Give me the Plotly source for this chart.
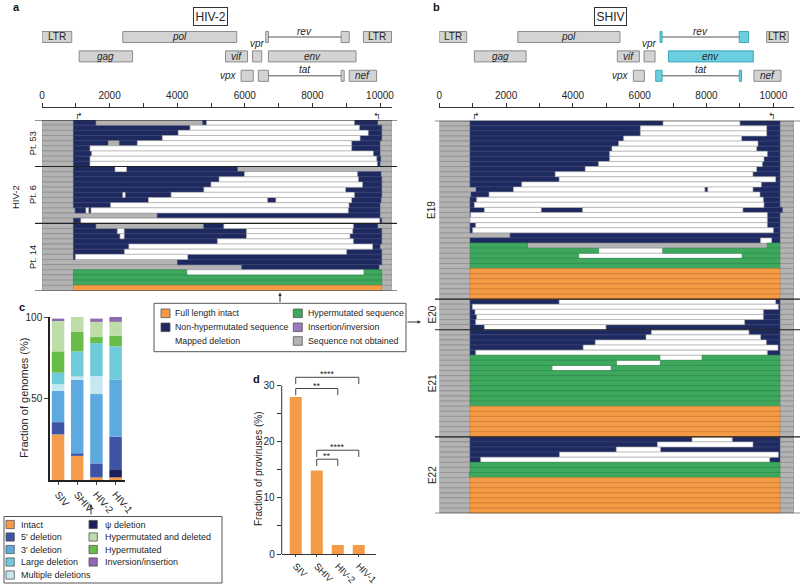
import plotly.graph_objects as go

W, H = 800, 585
def PX(x): return x / W
def PY(y): return 1 - y / H

FONT = "Liberation Sans, Arial, sans-serif"
TXT = "#262626"

NAVY = "#1E2A5F"; ORANGE = "#F59B45"; GREEN = "#3EA95E"; GRAY = "#B3B3B3"
PURPLE = "#9A7CC0"; WHITE = "#FFFFFF"; GENE_GRAY = "#D3D3D3"; CYAN = "#6BCFE0"

SEG_FILL = {"N": NAVY, "G": GRAY, "W": WHITE, "H": GREEN, "I": ORANGE}
SEG_LINE = {"N": "#3A4678", "G": "#8A8A8A", "W": "#A8A8A8", "H": "#2E8A4A", "I": "#C97A30"}

# ---------------- Panel a: HIV-2 proviral genomes (segments: type, start, end) ----------------
A_GROUP_LABELS = ["Pt. 53", "Pt. 6", "Pt. 14"]
A_FULL_END = 10340
A_PT53 = [
    [("N", 930, 1600), ("G", 1600, 4740), ("N", 4740, 4870), ("W", 4870, 9240), ("N", 9240, 9930)],
    [("N", 930, 4380), ("W", 4380, 9390), ("N", 9390, 10050)],
    [("N", 930, 4030), ("W", 4030, 9650), ("N", 9650, 10050)],
    [("N", 930, 3560), ("W", 3560, 9410), ("N", 9410, 10050)],
    [("N", 930, 1960), ("G", 1960, 2280), ("N", 2280, 2820), ("W", 2820, 9160), ("N", 9160, 10000)],
    [("N", 930, 1420), ("W", 1420, 9160), ("N", 9160, 10000)],
    [("N", 930, 1470), ("W", 1470, 9800), ("N", 9800, 10000)],
    [("N", 930, 1420), ("W", 1420, 9900), ("N", 9900, 10020)],
    [("N", 930, 1420), ("W", 1420, 9920), ("N", 9920, 10000)],
]
A_PT6 = [
    [("N", 930, 2160), ("W", 2160, 2500), ("N", 2500, 5780)],
    [("N", 930, 5990), ("W", 5990, 9330), ("N", 9330, 10030)],
    [("N", 930, 5240), ("W", 5240, 9360), ("N", 9360, 10050)],
    [("N", 930, 5000), ("W", 5000, 9480), ("N", 9480, 10050)],
    [("N", 930, 4790), ("W", 4790, 8980), ("N", 8980, 10050)],
    [("N", 930, 2390), ("W", 2390, 2460), ("N", 2460, 3820), ("W", 3820, 9240), ("N", 9240, 10050)],
    [("N", 930, 3150), ("W", 3150, 6670), ("N", 6670, 6920), ("W", 6920, 9160), ("N", 9160, 10030)],
    [("N", 930, 2030), ("W", 2030, 9080), ("N", 9080, 10000)],
    [("N", 980, 1300), ("W", 1300, 1380), ("N", 1380, 1450), ("W", 1450, 9060), ("N", 9060, 10000)],
    [("N", 3410, 10000)],
    [("N", 930, 1150), ("W", 1150, 9990), ("N", 9990, 10050)],
]
A_PT14 = [
    [("N", 930, 1600), ("G", 1600, 4770), ("N", 4770, 5380), ("W", 5380, 9210), ("N", 9210, 9930)],
    [("N", 930, 2230), ("W", 2230, 2430), ("N", 2430, 6050), ("W", 6050, 9190), ("N", 9190, 10050)],
    [("N", 930, 2310), ("W", 2310, 2430), ("N", 2430, 6050), ("W", 6050, 9110), ("N", 9110, 10050)],
    [("N", 930, 5190), ("W", 5190, 9210), ("N", 9210, 10050)],
    [("N", 930, 2570), ("W", 2570, 9780), ("N", 9780, 10000)],
    [("N", 930, 2440), ("W", 2440, 9010), ("N", 9010, 10050)],
    [("N", 930, 990), ("W", 990, 4310), ("N", 4310, 10050)],
    [("N", 4010, 10050)],
    [("N", 5910, 9970)],
    [("H", 930, 4280), ("W", 4280, 9530), ("H", 9530, 10050)],
    [("H", 930, 10050)],
    [("H", 930, 10050)],
    [("I", 930, 10050)],
]

# ---------------- Panel b: SHIV proviral genomes ----------------
B_GROUP_LABELS = ["E19", "E20", "E21", "E22"]
B_FULL_END = 10620
B_E19 = [
    [("N", 920, 6700), ("W", 6700, 9000), ("N", 9000, 10200)],
    [("N", 920, 6020), ("W", 6020, 9800), ("N", 9800, 10200)],
    [("N", 920, 6020), ("W", 6020, 9800), ("N", 9800, 10200)],
    [("N", 920, 5520), ("W", 5520, 9050), ("N", 9050, 10200)],
    [("N", 920, 5370), ("W", 5370, 9540), ("N", 9540, 10200)],
    [("N", 920, 5170), ("W", 5170, 9500), ("N", 9500, 10200)],
    [("N", 920, 5100), ("W", 5100, 9820), ("N", 9820, 10200)],
    [("N", 920, 5100), ("W", 5100, 9720), ("N", 9720, 10200)],
    [("N", 920, 4770), ("W", 4770, 9670), ("N", 9670, 10200)],
    [("N", 920, 4370), ("W", 4370, 9500), ("N", 9500, 10200)],
    [("N", 920, 3470), ("W", 3470, 9390), ("N", 9390, 10200)],
    [("N", 920, 3590), ("W", 3590, 10070), ("N", 10070, 10200)],
    [("N", 920, 2470), ("W", 2470, 9640), ("N", 9640, 10200)],
    [("N", 1100, 2220), ("W", 2220, 7950), ("N", 7950, 8040), ("W", 8040, 9390), ("N", 9390, 10200)],
    [("N", 950, 1490), ("W", 1490, 9600), ("N", 9600, 10200)],
    [("N", 920, 1120), ("W", 1120, 9700), ("N", 9700, 10200)],
    [("N", 920, 1050), ("W", 1050, 9720), ("N", 9720, 10200)],
    [("N", 920, 1350), ("W", 1350, 3050), ("N", 3050, 4290), ("W", 4290, 9090), ("N", 9090, 10270)],
    [("N", 920, 940), ("W", 940, 9820), ("N", 9820, 10200)],
    [("W", 920, 9820), ("N", 9820, 10200)],
    [("N", 920, 1090), ("W", 1090, 9820), ("N", 9820, 10200)],
    [("N", 920, 1000), ("W", 1000, 10000), ("N", 10000, 10200)],
    [("N", 2120, 10200)],
    [("N", 920, 9620), ("W", 9620, 9950), ("N", 9950, 10200)],
    [("H", 920, 2640), ("G", 2640, 9820), ("H", 9820, 10200)],
    [("H", 920, 4770), ("W", 4770, 6690), ("H", 6690, 10200)],
    [("H", 920, 4170), ("W", 4170, 9070), ("H", 9070, 10200)],
    [("H", 920, 10200)],
    [("H", 920, 10200)],
    [("I", 920, 10200)],
    [("I", 920, 10200)],
    [("I", 920, 10200)],
    [("I", 920, 10200)],
    [("I", 920, 10200)],
    [("I", 920, 10200)],
]
B_E20 = [
    [("N", 920, 3590), ("W", 3590, 10070), ("N", 10070, 10200)],
    [("N", 920, 990), ("W", 990, 10150), ("N", 10150, 10200)],
    [("N", 920, 1070), ("W", 1070, 9700), ("N", 9700, 10200)],
    [("N", 920, 1120), ("W", 1120, 9700), ("N", 9700, 10200)],
    [("N", 920, 1090), ("W", 1090, 9140), ("N", 9140, 10200)],
    [("N", 920, 1350), ("W", 1350, 4990), ("N", 4990, 10200)],
]
B_E21 = [
    [("N", 920, 6350), ("W", 6350, 9270), ("N", 9270, 10200)],
    [("N", 920, 6190), ("W", 6190, 9620), ("N", 9620, 10200)],
    [("N", 920, 4670), ("W", 4670, 9790), ("N", 9790, 10200)],
    [("N", 920, 4310), ("W", 4310, 10140), ("N", 10140, 10200)],
    [("N", 920, 1090), ("W", 1090, 9820), ("N", 9820, 10200)],
    [("H", 920, 6600), ("W", 6600, 7870), ("H", 7870, 10200)],
    [("H", 920, 5300), ("W", 5300, 6620), ("H", 6620, 10200)],
    [("H", 920, 3370), ("W", 3370, 5150), ("H", 5150, 10200)],
    [("H", 920, 10200)],
    [("H", 920, 10200)],
    [("H", 920, 10200)],
    [("H", 920, 10200)],
    [("H", 920, 10200)],
    [("H", 920, 10200)],
    [("H", 920, 10200)],
    [("I", 920, 10200)],
    [("I", 920, 10200)],
    [("I", 920, 10200)],
    [("I", 920, 10200)],
    [("I", 920, 10200)],
    [("I", 920, 10200)],
]
B_E22 = [
    [("N", 920, 7570), ("W", 7570, 8770), ("N", 8770, 10200)],
    [("N", 920, 6530), ("W", 6530, 9390), ("N", 9390, 10200)],
    [("N", 920, 5300), ("W", 5300, 6620), ("N", 6620, 10200)],
    [("N", 920, 3600), ("W", 3600, 10150), ("N", 10150, 10200)],
    [("N", 920, 1240), ("W", 1240, 9890), ("N", 9890, 10200)],
    [("H", 920, 10200)],
    [("H", 920, 10200)],
    [("H", 900, 10200)],
    [("I", 920, 10200)],
    [("I", 920, 10200)],
    [("I", 920, 10200)],
    [("I", 920, 10200)],
    [("I", 920, 10200)],
    [("I", 920, 10200)],
    [("I", 920, 10200)],
]

# ---------------- Gene maps ----------------
GENE_NAMES = ["LTR", "pol", "rev", "LTR", "gag", "vif", "vpr", "env", "vpx", "tat", "nef"]
GENE_ROWS = [0, 0, 0, 0, 1, 1, 1, 1, 2, 2, 2]
A_GENE_EXONS = [[(0, 880)], [(2390, 5760)], [(6620, 6700), (8850, 9090)], [(9510, 10340)],
                [(1100, 2680)], [(5430, 6080)], [(6230, 6500)], [(6700, 9290)],
                [(5890, 6250)], [(6400, 6700), (8850, 8940)], [(9090, 9900)]]
B_GENE_EXONS = [[(0, 820)], [(2350, 5410)], [(6610, 6670), (8980, 9260)], [(9800, 10450)],
                [(1050, 2600)], [(5330, 5990)], [(6130, 6460)], [(6860, 9400)],
                [(5810, 6140)], [(6480, 6670), (8980, 9050)], [(9420, 10230)]]
B_HIGHLIGHT = ["rev", "env", "tat"]
AXIS_TICKS = list(range(0, 10001, 1000))

# ---------------- Panel c: stacked composition ----------------
C_GROUPS = ["SIV", "SHIV", "HIV-2", "HIV-1"]
C_CATEGORIES = ["Intact", "ψ deletion", "5′ deletion", "3′ deletion", "Multiple deletions",
                "Large deletion", "Hypermutated", "Hypermutated and deleted", "Inversion/insertion"]
C_COLORS = ["#F59B4E", "#1D1F5C", "#3D54A6", "#5CAAE0", "#C4E7F0", "#6FCBD9", "#68BC48", "#BEDDA8", "#8E6BB0"]
C_INTACT = [28.0, 14.8, 1.6, 1.6]
C_PSI_DEL = [0.0, 0.0, 0.0, 5.0]
C_5_DEL = [7.5, 1.6, 8.6, 20.0]
C_3_DEL = [19.2, 45.1, 42.5, 34.9]
C_MULTI_DEL = [4.1, 2.0, 11.0, 0.0]
C_LARGE_DEL = [7.0, 15.4, 20.3, 20.5]
C_HYPER = [13.1, 12.1, 3.7, 6.5]
C_HYPER_DEL = [19.1, 9.0, 9.3, 8.5]
C_INV = [1.0, 0.0, 2.0, 3.0]
C_VALUES = [C_INTACT, C_PSI_DEL, C_5_DEL, C_3_DEL, C_MULTI_DEL, C_LARGE_DEL, C_HYPER, C_HYPER_DEL, C_INV]
C_LEGEND_COL1 = ["Intact", "5′ deletion", "3′ deletion", "Large deletion", "Multiple deletions"]
C_LEGEND_COL2 = ["ψ deletion", "Hypermutated and deleted", "Hypermutated", "Inversion/insertion"]

# ---------------- Panel d: intact fraction ----------------
D_GROUPS = ["SIV", "SHIV", "HIV-2", "HIV-1"]
D_INTACT = [28.0, 14.9, 1.6, 1.6]
D_COMPARISONS = [(0, 2, "**", 29.5), (0, 3, "****", 31.5), (1, 2, "**", 16.9), (1, 3, "****", 18.5)]

A_LEGEND_LABELS = ["Full length intact", "Non-hypermutated sequence", "Mapped deletion",
                   "Hypermutated sequence", "Insertion/inversion", "Sequence not obtained"]
A_LEGEND_COLORS = [ORANGE, NAVY, None, GREEN, PURPLE, GRAY]

fig = go.Figure()
shapes = []
annos = []

def add_rows(groups, labels, xa, ya, full_end, sep_x0, sep_x1, label_x, label_size):
    rows = [r for g in groups for r in g]
    n = len(rows)
    fig.add_trace(go.Bar(orientation="h", y=list(range(n)), x=[full_end] * n, base=[0] * n, width=1.0,
                         marker=dict(color=GRAY, line=dict(color="#858585", width=0.6)),
                         xaxis=xa, yaxis=ya, hoverinfo="skip"))
    for code in ["N", "G", "W", "H", "I"]:
        ys, bs, ls = [], [], []
        for i, row in enumerate(rows):
            for c, s, e in row:
                if c == code:
                    ys.append(i); bs.append(s); ls.append(e - s)
        if ys:
            fig.add_trace(go.Bar(orientation="h", y=ys, x=ls, base=bs, width=1.0,
                                 marker=dict(color=SEG_FILL[code], line=dict(color=SEG_LINE[code], width=0.6)),
                                 xaxis=xa, yaxis=ya, hoverinfo="skip"))
    yref = "y" if ya == "y" else "y" + ya[1:]
    start = 0
    bounds = [-0.5]
    for g, lab in zip(groups, labels):
        end = start + len(g)
        bounds.append(end - 0.5)
        annos.append(dict(x=PX(label_x), xref="paper", y=(start + end - 1) / 2, yref=yref, text=lab,
                          textangle=-90, showarrow=False, font=dict(size=label_size, color=TXT)))
        start = end
    for b in bounds:
        shapes.append(dict(type="line", xref="paper", yref=yref, x0=PX(sep_x0), x1=PX(sep_x1), y0=b, y1=b,
                           line=dict(color="#222", width=1.2)))
    return n

def add_genes(exons_list, xa, ya, highlight):
    yref = "y" + ya[1:]
    xref = "x" if xa == "x" else "x" + xa[1:]
    groups = {GENE_GRAY: ([], [], []), CYAN: ([], [], [])}
    for name, row, exons in zip(GENE_NAMES, GENE_ROWS, exons_list):
        col = CYAN if name in highlight else GENE_GRAY
        for s, e in exons:
            groups[col][0].append(row); groups[col][1].append(s); groups[col][2].append(e - s)
        if len(exons) > 1:
            fig.add_trace(go.Scatter(x=[exons[0][1], exons[1][0]], y=[row, row], mode="lines",
                                     line=dict(color="#555", width=1), xaxis=xa, yaxis=ya, hoverinfo="skip"))
        lab = name if name == "LTR" else "<i>%s</i>" % name
        if len(exons) > 1:
            annos.append(dict(x=(exons[0][1] + exons[1][0]) / 2, y=row - 0.3, xref=xref, yref=yref, text=lab,
                              showarrow=False, font=dict(size=10, color=TXT)))
        elif name == "vpr":
            annos.append(dict(x=(exons[0][0] + exons[0][1]) / 2, y=row - 0.66, xref=xref, yref=yref, text=lab,
                              showarrow=False, font=dict(size=10, color=TXT)))
        elif name == "vpx":
            annos.append(dict(x=exons[0][0] - 60, y=row, xref=xref, yref=yref, text=lab, xanchor="right",
                              showarrow=False, font=dict(size=10, color=TXT)))
        else:
            annos.append(dict(x=(exons[0][0] + exons[0][1]) / 2, y=row, xref=xref, yref=yref, text=lab,
                              showarrow=False, font=dict(size=10, color=TXT)))
    for col, (ys, bs, ls) in groups.items():
        if ys:
            fig.add_trace(go.Bar(orientation="h", y=ys, x=ls, base=bs, width=0.57,
                                 marker=dict(color=col, line=dict(color="#8C8C8C" if col == GENE_GRAY else "#3AA7BB", width=1)),
                                 xaxis=xa, yaxis=ya, hoverinfo="skip"))

# panel a
nA = add_rows([A_PT53, A_PT6, A_PT14], A_GROUP_LABELS, "x", "y", A_FULL_END, 35, 397, 33, 9.2)
add_genes(A_GENE_EXONS, "x", "y2", [])
# panel b
nB = add_rows([B_E19, B_E20, B_E21, B_E22], B_GROUP_LABELS, "x2", "y3", B_FULL_END, 435, 800, 432, 10)
add_genes(B_GENE_EXONS, "x2", "y4", B_HIGHLIGHT)

# panel c stacked bars
cum = [0.0] * len(C_GROUPS)
for cat, col, vals in zip(C_CATEGORIES, C_COLORS, C_VALUES):
    fig.add_trace(go.Bar(x=list(range(len(C_GROUPS))), y=vals, base=list(cum), width=0.65,
                         marker=dict(color=col, line=dict(width=0)), xaxis="x3", yaxis="y5", hoverinfo="skip"))
    cum = [a + b for a, b in zip(cum, vals)]

# panel d bars
fig.add_trace(go.Bar(x=list(range(len(D_GROUPS))), y=D_INTACT, width=0.57,
                     marker=dict(color=ORANGE, line=dict(width=0)), xaxis="x4", yaxis="y6", hoverinfo="skip"))
shapes.append(dict(type="line", xref="x4 domain", yref="y6", x0=0, x1=0, y0=0, y1=30,
                   line=dict(color="#333", width=1)))
for i, j, stars, yv in D_COMPARISONS:
    drop = 1.2
    shapes.append(dict(type="path", xref="x4", yref="y6",
                       path="M %s,%s L %s,%s L %s,%s L %s,%s" % (i, yv - drop, i, yv, j, yv, j, yv - drop),
                       line=dict(color="#444", width=1)))
    annos.append(dict(x=(i + j) / 2, y=yv, xref="x4", yref="y6", text=stars, showarrow=False,
                      yanchor="bottom", yshift=-4, font=dict(size=9, color=TXT)))

# titles / letters
for t, x, y in [("a", 16, 7), ("b", 436, 7), ("c", 22, 307), ("d", 256, 379)]:
    annos.append(dict(x=PX(x), y=PY(y), xref="paper", yref="paper", text="<b>%s</b>" % t, showarrow=False,
                      font=dict(size=11, color="#111")))
for t, x in [("HIV-2", 210), ("SHIV", 610)]:
    annos.append(dict(x=PX(x), y=PY(16.5), xref="paper", yref="paper", text=t, showarrow=False,
                      bordercolor="#333", borderwidth=1, borderpad=1.5, font=dict(size=12, color=TXT)))
annos.append(dict(x=PX(15), y=PY(197), xref="paper", yref="paper", text="HIV-2", textangle=-90,
                  showarrow=False, font=dict(size=9.5, color=TXT)))
annos.append(dict(x=PX(24), y=PY(398), xref="paper", yref="paper", text="Fraction of genomes (%)",
                  textangle=-90, showarrow=False, font=dict(size=11, color=TXT)))
annos.append(dict(x=PX(258), y=PY(469), xref="paper", yref="paper", text="Fraction of proviruses (%)",
                  textangle=-90, showarrow=False, font=dict(size=10, color=TXT)))

# TSS arrows
for xr, lx, rx in [("x", 930, 10080), ("x2", 920, 10150)]:
    annos.append(dict(x=lx, y=PY(116), xref=xr, yref="paper", text="↱", xanchor="left", showarrow=False,
                      font=dict(size=9, color="#333", family="DejaVu Sans")))
    annos.append(dict(x=rx, y=PY(116), xref=xr, yref="paper", text="↰", xanchor="right", showarrow=False,
                      font=dict(size=9, color="#333", family="DejaVu Sans")))

# legend a
shapes.append(dict(type="rect", xref="paper", yref="paper", x0=PX(154), x1=PX(406), y0=PY(303.3), y1=PY(351.7),
                   line=dict(color="#555", width=1), fillcolor="white"))
for k, (lab, col) in enumerate(zip(A_LEGEND_LABELS, A_LEGEND_COLORS)):
    c, r = divmod(k, 3)
    sx = [161, 293.3][c]; tx = [172.7, 305.7][c]; yy = [313.3, 327.3, 341][r]
    if col:
        shapes.append(dict(type="rect", xref="paper", yref="paper", x0=PX(sx), x1=PX(sx + 9),
                           y0=PY(yy + 4.3), y1=PY(yy - 4.3), fillcolor=col, line=dict(color="#555", width=0.8)))
    annos.append(dict(x=PX(tx), y=PY(yy), xref="paper", yref="paper", text=lab, xanchor="left",
                      showarrow=False, font=dict(size=8.8, color=TXT)))

# legend c
shapes.append(dict(type="rect", xref="paper", yref="paper", x0=PX(4), x1=PX(222), y0=PY(516.5), y1=PY(583),
                   line=dict(color="#555", width=1), fillcolor="white"))
for c, items in enumerate([C_LEGEND_COL1, C_LEGEND_COL2]):
    for r, lab in enumerate(items):
        col = C_COLORS[C_CATEGORIES.index(lab)]
        sx = [6, 89][c]; tx = [19, 103.3][c]; yy = [524.5, 537, 549.5, 562, 575][r]
        shapes.append(dict(type="rect", xref="paper", yref="paper", x0=PX(sx), x1=PX(sx + 8.3),
                           y0=PY(yy + 4.1), y1=PY(yy - 4.1), fillcolor=col, line=dict(color="#555", width=0.8)))
        annos.append(dict(x=PX(tx), y=PY(yy), xref="paper", yref="paper", text=lab, xanchor="left",
                          showarrow=False, font=dict(size=9, color=TXT)))

# explicit anchors (paper 'auto' anchoring would shift texts near the edges)
for a in annos:
    a.setdefault("xanchor", "center")
    a.setdefault("yanchor", "middle")

# arrows
for x, y, ax, ay in [(280, 292.5, 0, 11), (421, 322, -15, 0), (91, 504, 0, 12)]:
    annos.append(dict(x=PX(x), y=PY(y), xref="paper", yref="paper", text="", showarrow=True, ax=ax, ay=ay,
                      arrowhead=2, arrowsize=0.7, arrowwidth=1, arrowcolor="#333"))

top_axis = dict(side="top", anchor="free", position=PY(107.3), tickvals=AXIS_TICKS,
                ticktext=[str(v) if v % 2000 == 0 else "" for v in AXIS_TICKS], ticks="outside", ticklen=4,
                tickcolor="#333", showline=True, linecolor="#333", linewidth=1, showgrid=False, zeroline=False,
                tickfont=dict(size=10, color=TXT), automargin=False)

fig.update_layout(
    template="none",
    width=W, height=H, margin=dict(l=0, r=0, t=0, b=0, pad=0, autoexpand=False),
    paper_bgcolor="white", plot_bgcolor="white",
    barmode="overlay", showlegend=False, font=dict(family=FONT, color=TXT),
    xaxis=dict(domain=[PX(42), PX(392)], range=[0, 10355], **top_axis),
    yaxis=dict(domain=[PY(290.5), PY(120)], range=[nA - 0.5, -0.5], visible=False, anchor="x", automargin=False),
    yaxis2=dict(domain=[PY(85.5), PY(27.3)], range=[2.5, -0.5], visible=False, anchor="x", automargin=False),
    xaxis2=dict(domain=[PX(439.3), PX(794)], range=[0, 10620], **top_axis),
    yaxis3=dict(domain=[PY(513.3), PY(120.7)], range=[nB - 0.5, -0.5], visible=False, anchor="x2", automargin=False),
    yaxis4=dict(domain=[PY(85.5), PY(27.3)], range=[2.5, -0.5], visible=False, anchor="x2", automargin=False),
    xaxis3=dict(domain=[PX(50), PX(125)], range=[-0.42, 3.49], anchor="y5", tickvals=list(range(4)),
                ticktext=C_GROUPS, tickangle=50, ticks="outside", ticklen=3, showline=True, linecolor="#222",
                linewidth=1.5, showgrid=False, zeroline=False, tickfont=dict(size=10, color=TXT), automargin=False),
    yaxis5=dict(domain=[PY(480), PY(317)], range=[0, 100], anchor="x3", tickvals=[50, 100], ticks="outside",
                ticklen=4, showline=True, linecolor="#222", linewidth=1.5, showgrid=False, zeroline=False,
                tickfont=dict(size=10, color=TXT), automargin=False),
    xaxis4=dict(domain=[PX(281.7), PX(376)], range=[-0.667, 3.82], anchor="y6", tickvals=list(range(4)),
                ticktext=D_GROUPS, tickangle=45, ticks="outside", ticklen=2, showline=True, linecolor="#333",
                linewidth=1, showgrid=False, zeroline=False, tickfont=dict(size=9.5, color=TXT), automargin=False),
    yaxis6=dict(domain=[PY(554), PY(371.7)], range=[0, 32.5], anchor="x4", tickvals=list(range(0, 31, 5)),
                ticktext=["0", "", "10", "", "20", "", "30"], ticks="outside", ticklen=4, tickcolor="#333",
                showline=False, showgrid=False, zeroline=False, tickfont=dict(size=10, color=TXT), automargin=False),
    shapes=shapes, annotations=annos,
)

fig.write_html("out.html", config={"displayModeBar": False},
               post_script="document.body.style.margin='0';document.body.style.padding='0';")
